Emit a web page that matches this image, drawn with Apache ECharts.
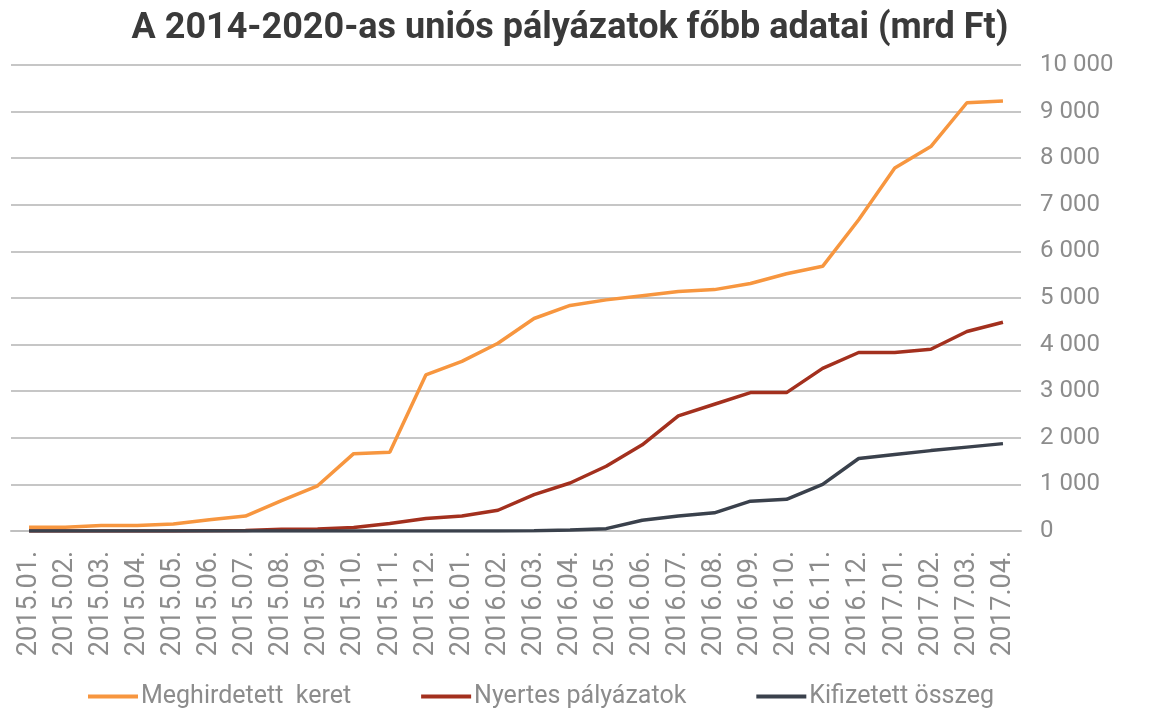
<!DOCTYPE html>
<html>
<head>
<meta charset="utf-8">
<script src="https://cdn.jsdelivr.net/npm/echarts@6/dist/echarts.min.js"></script>
<style>html,body{margin:0;padding:0;background:#fff}#c{width:1160px;height:708px}</style>
</head>
<body>
<div id="c"></div>
<script>
const categories = ['2015.01.','2015.02.','2015.03.','2015.04.','2015.05.','2015.06.','2015.07.','2015.08.','2015.09.','2015.10.','2015.11.','2015.12.','2016.01.','2016.02.','2016.03.','2016.04.','2016.05.','2016.06.','2016.07.','2016.08.','2016.09.','2016.10.','2016.11.','2016.12.','2017.01.','2017.02.','2017.03.','2017.04.'];
const meghirdetett = [80,80,120,120,150,240,320,650,970,1660,1690,3350,3640,4030,4560,4840,4960,5050,5140,5180,5310,5520,5680,6680,7790,8250,9190,9230];
const nyertes = [0,0,0,0,0,5,10,35,45,75,160,270,320,445,780,1030,1390,1850,2470,2720,2970,2970,3490,3830,3830,3900,4280,4480];
const kifizetett = [0,0,0,0,0,0,0,0,0,0,0,0,0,0,5,20,50,230,320,390,640,680,1000,1555,1640,1725,1800,1875];
const seriesNames = ['Meghirdetett  keret','Nyertes pályázatok','Kifizetett összeg'];
const colors = ['#f7963f','#a3301e','#3a414c'];

const chart = echarts.init(document.getElementById('c'));
const fontFam = 'Roboto, "Liberation Sans", sans-serif';
chart.setOption({
  animation: false,
  color: colors,
  title: {
    text: 'A 2014-2020-as uniós pályázatok főbb adatai (mrd Ft)',
    left: 565, top: 6, textAlign: 'center',
    textStyle: {fontFamily: fontFam, fontWeight: 'bold', fontSize: 36, color: '#3a3a3a'}
  },
  grid: {left: 11, right: 139, top: 65, bottom: 177, containLabel: false},
  legend: {
    top: 679, left: 83, itemGap: 70,
    icon: 'rect', itemWidth: 50, itemHeight: 4,
    textStyle: {fontFamily: fontFam, fontSize: 25, color: '#8c8c8c', padding: [0, 0, 0, -2]},
    data: seriesNames
  },
  xAxis: {
    type: 'category', data: categories, boundaryGap: true,
    axisLine: {show: true, lineStyle: {color: '#c0c0c0', width: 2}},
    axisTick: {show: false},
    axisLabel: {rotate: 90, interval: 0, margin: 20, fontFamily: fontFam, fontSize: 27, color: '#8c8c8c'}
  },
  yAxis: {
    type: 'value', position: 'right', min: 0, max: 10000, interval: 1000,
    axisLine: {show: false}, axisTick: {show: false},
    splitLine: {lineStyle: {color: '#c6c6c6', width: 2}},
    axisLabel: {margin: 19, fontFamily: fontFam, fontSize: 24, color: '#8c8c8c',
      formatter: v => String(v).replace(/\B(?=(\d{3})+(?!\d))/g, ' ')}
  },
  series: [
    {name: seriesNames[0], type: 'line', data: meghirdetett, symbol: 'none', lineStyle: {width: 3.5}, z: 3},
    {name: seriesNames[1], type: 'line', data: nyertes, symbol: 'none', lineStyle: {width: 3.5}, z: 4},
    {name: seriesNames[2], type: 'line', data: kifizetett, symbol: 'none', lineStyle: {width: 3.5}, z: 5}
  ]
});
</script>
</body>
</html>
